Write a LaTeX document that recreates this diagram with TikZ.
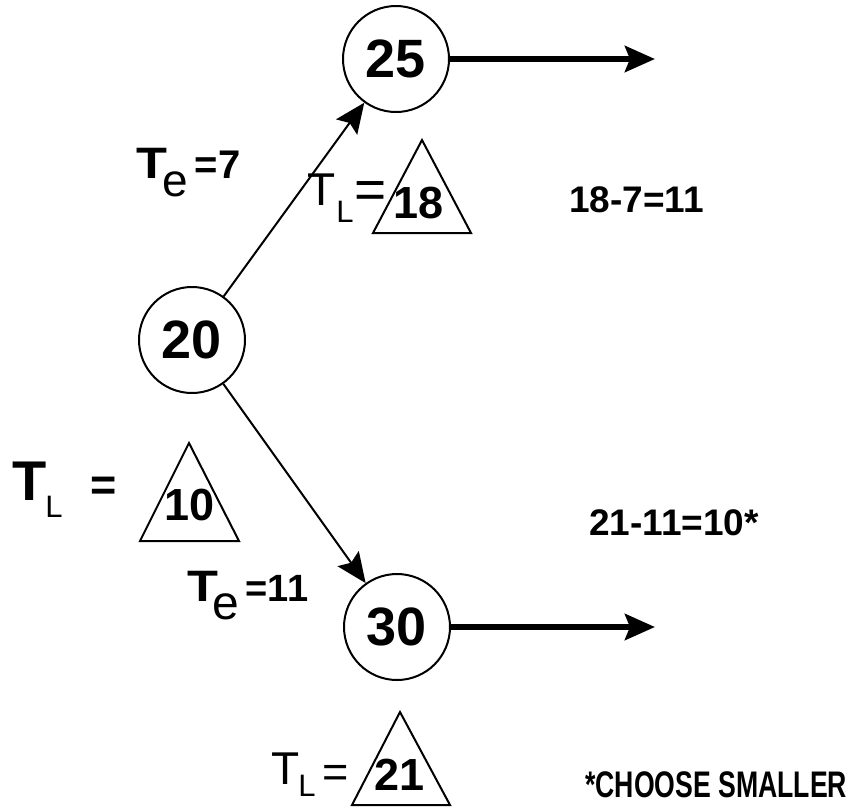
\documentclass[tikz,border=0pt]{standalone}
\usepackage{fontspec}
\setmainfont{Liberation Sans}
\usetikzlibrary{arrows.meta, calc}
\newcommand{\fs}[1]{\fontsize{#1}{#1}\selectfont}
\newcommand{\wideT}[1]{{\fs{#1}\bfseries\scalebox{1.15}[1]{T}}}

\begin{document}
\begin{tikzpicture}[x=1pt, y=-1pt,
    event/.style={draw, circle, line width=2pt, minimum size=106pt, inner sep=0pt,
                  font=\fs{54}\bfseries},
    lnum/.style={inner sep=0pt, font=\fs{45}\bfseries},
    tri/.style={line width=2pt, line join=miter},
    lbl/.style={anchor=base west, inner sep=0pt},
    diff/.style={anchor=base west, inner sep=0pt, font=\fs{37}\bfseries},
    act/.style={-{Stealth[length=30pt, width=26pt, inset=5pt]}, line width=2pt},
    flow/.style={-{Stealth[length=30pt, width=26pt, inset=5pt]}, line width=6pt}]
    \useasboundingbox (0,0) rectangle (849,807);
    % events
    \node[event] (e20) at (192,340) {20};
    \node[event] (e25) at (396,59) {25};
    \node[event] (e30) at (397,627) {30};
    \coordinate (x25) at (655,59);
    \coordinate (x30) at (655,627);
    \draw[act] (e20) -- (e25);
    \draw[act] (e20) -- (e30);
    \draw[flow] (e25) -- (x25);
    \draw[flow] (e30) -- (x30);
    % latest times
    \node[lnum] (l10) at (190,505) {10};
    \node[lnum] (l18) at (419,203) {18};
    \node[lnum] (l21) at (400,775) {21};
    \draw[tri] (l10.center) ++(-1,-62) -- ++(-49,98) -- ++(99,0) -- cycle;
    \draw[tri] (l18.center) ++(3,-63) -- ++(-49,93) -- ++(98,0) -- cycle;
    \draw[tri] (l21.center) ++(0,-63) -- ++(-48,93) -- ++(98,0) -- cycle;
    % labels
    \node[lbl] (tl10) at (12,500) {{\fs{56}\bfseries T}\kern-1pt\raisebox{-17pt}{\fs{31}L}\hspace{28pt}{\fs{45}\bfseries =}};
    \node[lbl] (tl18) at (307,205) {\fs{46}T\hspace{1pt}\raisebox{-17pt}{\fs{31}L}\hspace{1pt}\raisebox{-3pt}{\fs{55}=}};
    \node[lbl] (tl21) at (271,784) {\fs{46}T\kern-1pt\raisebox{-12pt}{\fs{31}L}\hspace{7pt}\raisebox{-3pt}{\fs{45}=}};
    \node[lbl] (te7) at (136,178) {\wideT{44}\kern-5pt\raisebox{-18pt}{\fs{46}e}\hspace{7pt}{\fs{40}\bfseries =7}};
    \node[lbl] (te11) at (187,601) {\wideT{44}\kern-6pt\raisebox{-18pt}{\fs{48}e}\hspace{7pt}{\fs{38}\bfseries =11}};
    % slack
    \node[diff] (s25) at (569,212) {18-7=11};
    \node[diff] (s30) at (589,535) {21-11=10*};
    \node[diff] (note) at (585,797) {\scalebox{0.72}[1]{*CHOOSE SMALLER}};
\end{tikzpicture}
\end{document}
